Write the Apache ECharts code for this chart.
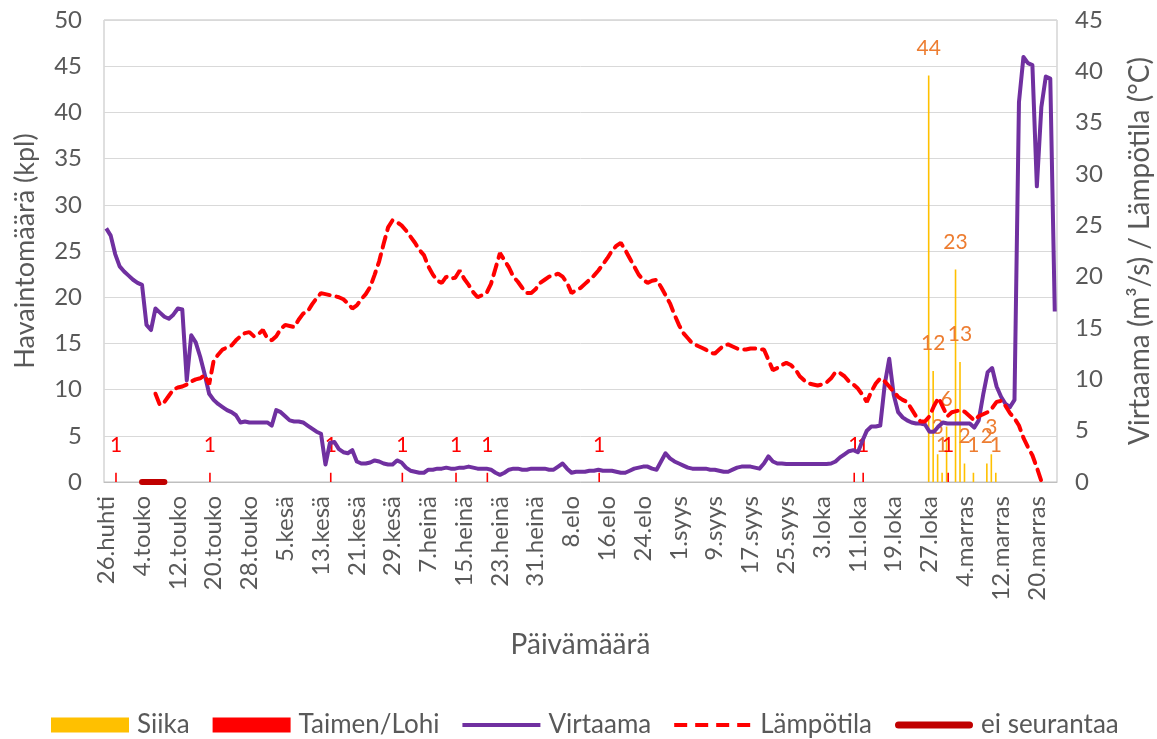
<!DOCTYPE html>
<html>
<head>
<meta charset="utf-8">
<title>Havaintomäärä</title>
<script src="https://cdn.jsdelivr.net/npm/echarts@6/dist/echarts.min.js"></script>
<style>
  html, body { margin: 0; padding: 0; background: #fff; }
  #chart { width: 1157px; height: 739px; }
</style>
</head>
<body>
<div id="chart"></div>
<script>
// one category per day, 26.huhti ... 24.marras
const startDay = 26;
const monthNames = ['huhti', 'touko', 'kesä', 'heinä', 'elo', 'syys', 'loka', 'marras'];
const monthLengths = [30, 31, 30, 31, 31, 30, 31, 30];
const dayCount = 213;

// Siika counts (kpl)
const siikaDates = ['27.loka', '28.loka', '29.loka', '30.loka', '31.loka', '2.marras', '3.marras',
                    '4.marras', '6.marras', '9.marras', '10.marras', '11.marras'];
const siikaCounts = [44, 12, 3, 1, 6, 23, 13, 2, 1, 2, 3, 1];

// Taimen/Lohi counts (kpl)
const taimenDates = ['28.huhti', '19.touko', '15.kesä', '1.heinä', '13.heinä', '20.heinä',
                     '14.elo', '10.loka', '12.loka', '31.loka'];
const taimenCounts = [1, 1, 1, 1, 1, 1, 1, 1, 1, 1];

// no monitoring period
const eiSeurantaaDates = ['4.touko', '5.touko', '6.touko', '7.touko', '8.touko', '9.touko'];

// Virtaama (m3/s), daily
const virtaama = [
  24.7, 24.0, 22.2, 21.0, 20.5, 20.1, 19.7, 19.4, 19.2, 15.3,
  14.8, 16.9, 16.5, 16.1, 15.9, 16.3, 16.9, 16.8, 9.9, 14.3,
  13.6, 12.2, 10.5, 8.6, 8.0, 7.6, 7.3, 7.0, 6.8, 6.5,
  5.8, 5.9, 5.8, 5.8, 5.8, 5.8, 5.8, 5.5, 7.0, 6.8,
  6.4, 6.0, 5.9, 5.9, 5.8, 5.5, 5.2, 4.9, 4.7, 1.7,
  3.8, 3.9, 3.2, 2.9, 2.8, 3.1, 2.0, 1.8, 1.8, 1.9,
  2.1, 2.0, 1.8, 1.7, 1.7, 2.1, 1.9, 1.4, 1.1, 1.0,
  0.9, 0.9, 1.2, 1.2, 1.3, 1.3, 1.4, 1.3, 1.3, 1.4,
  1.4, 1.5, 1.4, 1.3, 1.3, 1.3, 1.2, 0.9, 0.7, 0.9,
  1.2, 1.3, 1.3, 1.2, 1.2, 1.3, 1.3, 1.3, 1.3, 1.2,
  1.2, 1.5, 1.8, 1.3, 0.9, 1.0, 1.0, 1.0, 1.1, 1.1,
  1.2, 1.1, 1.1, 1.1, 1.0, 0.9, 0.9, 1.1, 1.3, 1.4,
  1.5, 1.5, 1.3, 1.2, 2.0, 2.8, 2.3, 2.0, 1.8, 1.6,
  1.4, 1.3, 1.3, 1.3, 1.3, 1.2, 1.2, 1.1, 1.0, 1.0,
  1.2, 1.4, 1.5, 1.5, 1.5, 1.4, 1.3, 1.8, 2.5, 2.0,
  1.8, 1.8, 1.75, 1.75, 1.75, 1.75, 1.75, 1.75, 1.75, 1.75,
  1.75, 1.75, 1.8, 2.0, 2.4, 2.7, 3.0, 3.1, 2.9, 4.0,
  5.0, 5.4, 5.4, 5.5, 9.5, 12.0, 8.5, 6.8, 6.3, 6.0,
  5.8, 5.7, 5.7, 5.6, 4.9, 4.9, 5.4, 5.8, 5.7, 5.7,
  5.7, 5.7, 5.7, 5.7, 5.3, 6.0, 8.5, 10.7, 11.1, 9.3,
  8.3, 7.6, 7.3, 8.0, 37.0, 41.4, 40.8, 40.6, 28.8, 36.5,
  39.5, 39.3, 16.6
];

// Lämpötila (°C), daily
const lampotila = [
  null, null, null, null, null, null, null, null, null, null, null,
  8.6, 7.5, 7.8, 8.4, 9.0, 9.2, 9.3, 9.5, 9.8,
  10.0, 10.1, 10.4, 9.5, 11.8, 12.4, 12.9, 13.1, 13.3, 13.8,
  14.2, 14.5, 14.6, 14.2, 14.4, 14.8, 14.0, 13.8, 14.2, 14.9,
  15.3, 15.2, 15.1, 15.8, 16.4, 16.6, 17.3, 17.9, 18.4, 18.3,
  18.2, 18.1, 18.0, 17.8, 17.4, 16.9, 17.2, 17.8, 18.3, 19.0,
  20.2, 21.5, 23.2, 24.8, 25.5, 25.3, 25.0, 24.5, 23.9, 23.3,
  22.6, 22.1, 21.0, 20.2, 19.6, 19.4, 20.0, 19.8, 19.9, 20.6,
  19.8, 19.2, 18.5, 18.0, 18.2, 18.4, 19.3, 20.8, 22.3, 21.6,
  20.9, 20.0, 19.5, 18.9, 18.4, 18.4, 18.8, 19.4, 19.7, 20.0,
  20.1, 20.3, 20.0, 19.4, 18.4, 18.7, 18.9, 19.3, 19.7, 20.1,
  20.6, 21.2, 21.8, 22.5, 23.0, 23.3, 22.6, 21.8, 21.0, 20.2,
  19.7, 19.4, 19.6, 19.7, 19.0, 18.2, 17.4, 16.3, 15.3, 14.5,
  14.0, 13.5, 13.3, 13.1, 12.9, 12.6, 12.5, 12.9, 13.3, 13.4,
  13.2, 13.0, 12.9, 12.9, 13.0, 13.0, 12.9, 12.9, 11.9, 10.9,
  11.1, 11.4, 11.6, 11.4, 11.0, 10.3, 9.9, 9.6, 9.5, 9.4,
  9.5, 9.7, 10.1, 10.7, 10.6, 10.3, 9.8, 9.5, 9.1, 8.5,
  7.8, 8.8, 9.6, 10.1, 9.8, 9.3, 8.8, 8.3, 8.0, 7.8,
  7.1, 6.4, 5.9, 5.9, 6.4, 7.4, 8.2, 7.3, 6.4, 6.8,
  6.9, 7.0, 6.8, 6.4, 6.0, 6.4, 6.6, 6.8, 7.2, 7.8,
  7.9, 7.4, 6.7, 6.2, 5.5, 4.3, 3.4, 2.6, 1.4, 0.1,
  null, null, null
];

// build daily categories
const categories = [];
let m = 0, d = startDay;
for (let i = 0; i < dayCount; i++) {
  categories.push(d + '.' + monthNames[m]);
  d++;
  if (d > monthLengths[m]) { d = 1; m++; }
}

function toDaily(dates, values) {
  const out = new Array(dayCount).fill(null);
  dates.forEach((dt, k) => {
    const idx = categories.indexOf(dt);
    if (idx >= 0) out[idx] = values[k];
  });
  return out;
}

const siikaData = toDaily(siikaDates, siikaCounts);
const taimenData = toDaily(taimenDates, taimenCounts);
const eiData = toDaily(eiSeurantaaDates, eiSeurantaaDates.map(() => 0));

// legend icons for the line series (no marker, like the original)
const iconSolid = 'path://M0,0 M78,15 M0,5.5 L78,5.5 L78,9.5 L0,9.5 Z';
const iconDash = 'path://M0,0 M78,15 M0,5.5 h13 v4 h-13 Z M21,5.5 h13 v4 h-13 Z M42,5.5 h13 v4 h-13 Z M63,5.5 h13 v4 h-13 Z';
const iconThick = 'path://M0,0 M78,15 M3.5,4 L74.5,4 A3.5,3.5 0 0 1 74.5,11 L3.5,11 A3.5,3.5 0 0 1 3.5,4 Z';

const gray = '#595959';
const chart = echarts.init(document.getElementById('chart'));

chart.setOption({
  animation: false,
  textStyle: { fontFamily: 'Lato' },
  grid: {
    left: 104, right: 100, top: 20, bottom: 257,
    outerBoundsMode: 'none',
    show: true, borderColor: '#BFBFBF', borderWidth: 1
  },
  legend: {
    left: 46, top: 707,
    itemWidth: 78, itemHeight: 15, itemGap: 23,
    textStyle: { fontSize: 26, color: gray, fontFamily: 'Lato', padding: [0, 0, 0, 3] },
    data: [
      { name: 'Siika', icon: 'rect' },
      { name: 'Taimen/Lohi', icon: 'rect' },
      { name: 'Virtaama', icon: iconSolid },
      { name: 'Lämpötila', icon: iconDash },
      { name: 'ei seurantaa', icon: iconThick }
    ]
  },
  xAxis: {
    type: 'category',
    data: categories,
    boundaryGap: true,
    name: 'Päivämäärä',
    nameLocation: 'middle',
    nameGap: 149,
    nameTextStyle: { fontSize: 28, color: gray },
    axisLine: { lineStyle: { color: '#BFBFBF' } },
    axisTick: { interval: 0, length: 7, lineStyle: { color: '#D0D0D0' } },
    axisLabel: { interval: 7, rotate: 90, fontSize: 24, color: gray, margin: 14 }
  },
  yAxis: [
    {
      type: 'value', min: 0, max: 50, interval: 5,
      name: 'Havaintomäärä (kpl)',
      nameLocation: 'middle', nameGap: 65,
      nameTextStyle: { fontSize: 27, color: gray },
      axisLine: { show: false }, axisTick: { show: false },
      axisLabel: { fontSize: 24, color: gray, margin: 22 },
      splitLine: { lineStyle: { color: '#D9D9D9' } }
    },
    {
      type: 'value', min: 0, max: 45, interval: 5,
      name: 'Virtaama (m³/s) / Lämpötila (°C)',
      nameLocation: 'middle', nameGap: 69,
      nameTextStyle: { fontSize: 28, color: gray },
      axisLine: { show: false }, axisTick: { show: false },
      axisLabel: { fontSize: 24, color: gray, margin: 18 },
      splitLine: { show: false }
    }
  ],
  series: [
    {
      name: 'Siika', type: 'bar', yAxisIndex: 0,
      data: siikaData, barWidth: 1.6, barGap: '0%',
      itemStyle: { color: '#FFC000' },
      label: { show: true, position: 'top', distance: 17, fontSize: 21, color: '#ED7D31' }
    },
    {
      name: 'Taimen/Lohi', type: 'bar', yAxisIndex: 0,
      data: taimenData, barWidth: 1.6, barGap: '0%',
      itemStyle: { color: '#FF0000' },
      label: { show: true, position: 'top', distance: 17, fontSize: 21, color: '#FF0000' }
    },
    {
      name: 'Virtaama', type: 'line', yAxisIndex: 1,
      data: virtaama, symbol: 'none',
      lineStyle: { color: '#7030A0', width: 4, join: 'round' },
      itemStyle: { color: '#7030A0' }
    },
    {
      name: 'Lämpötila', type: 'line', yAxisIndex: 1,
      data: lampotila, symbol: 'none',
      lineStyle: { color: '#FF0000', width: 4, type: [11, 7], cap: 'round' },
      itemStyle: { color: '#FF0000' }
    },
    {
      name: 'ei seurantaa', type: 'line', yAxisIndex: 0,
      data: eiData, symbol: 'none', clip: false,
      lineStyle: { color: '#C00000', width: 6, cap: 'round' },
      itemStyle: { color: '#C00000' }
    }
  ]
});
</script>
</body>
</html>
